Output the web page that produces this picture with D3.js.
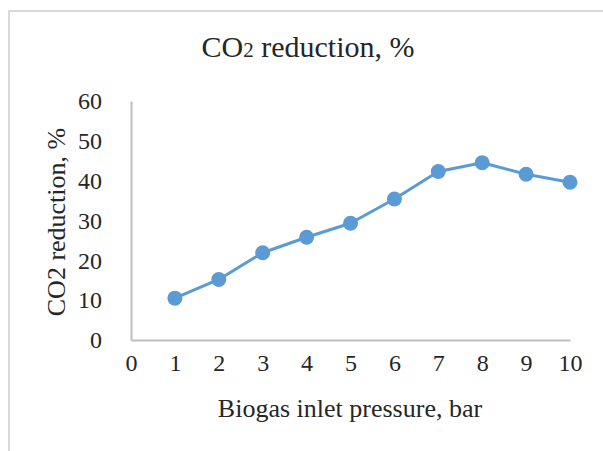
<!DOCTYPE html>
<html>
<head>
<meta charset="utf-8">
<script src="https://cdn.jsdelivr.net/npm/d3@7"></script>
<style>
	body { margin: 0; background: #fff; }
	svg text { font-family: "Liberation Serif", "Times New Roman", serif; fill: #262626; }
</style>
</head>
<body>
<script>
// pressure (bar) against CO2 reduction (%)
var pressure = [1, 2, 3, 4, 5, 6, 7, 8, 9, 10];
var reduction = [10.5, 15.2, 21.9, 25.8, 29.3, 35.4, 42.3, 44.5, 41.6, 39.6];
var xTicks = [0, 1, 2, 3, 4, 5, 6, 7, 8, 9, 10];
var yTicks = [0, 10, 20, 30, 40, 50, 60];

var width = 603, height = 451;
var margin = {top: 101, right: 33, bottom: 111, left: 131};

var svg = d3.select('body').append('svg')
	.attr('width', width)
	.attr('height', height);

// chart area border
svg.append('rect')
	.attr('x', 9)
	.attr('y', 11)
	.attr('width', width + 20)
	.attr('height', height + 20)
	.style('fill', 'none')
	.style('stroke', '#d9d9d9')
	.style('stroke-width', 2);

var x = d3.scaleLinear()
	.domain([0, 10])
	.range([margin.left, width - margin.right]);

var y = d3.scaleLinear()
	.domain([0, 60])
	.range([height - margin.bottom, margin.top]);

// x axis
var gx = svg.append('g')
	.attr('transform', 'translate(0,' + y(0) + ')')
	.call(d3.axisBottom(x).tickValues(xTicks).tickSize(0).tickPadding(14));
gx.select('.domain').style('stroke', '#bfbfbf').style('stroke-width', 2);
gx.selectAll('text').style('font-size', '24px').attr('fill', '#262626');

// y axis
var gy = svg.append('g')
	.attr('transform', 'translate(' + x(0) + ',0)')
	.call(d3.axisLeft(y).tickValues(yTicks).tickSize(0).tickPadding(29));
gy.select('.domain').style('stroke', '#bfbfbf').style('stroke-width', 2);
gy.selectAll('text').style('font-size', '24px').attr('fill', '#262626');

// title
var title = svg.append('text')
	.attr('x', 308)
	.attr('y', 57)
	.style('text-anchor', 'middle')
	.style('font-size', '30px');
title.append('tspan').text('CO');
title.append('tspan').style('font-size', '21px').text('2');
title.append('tspan').text(' reduction, %');

// axis titles
svg.append('text')
	.attr('x', 350)
	.attr('y', 417)
	.style('text-anchor', 'middle')
	.style('font-size', '26px')
	.text('Biogas inlet pressure, bar');

svg.append('text')
	.attr('transform', 'translate(65,' + 222 + ') rotate(-90)')
	.style('text-anchor', 'middle')
	.style('font-size', '26px')
	.text('CO2 reduction, %');

// line and markers
var line = d3.line()
	.x(function(d, i) { return x(pressure[i]); })
	.y(function(d) { return y(d); });

svg.append('path')
	.datum(reduction)
	.attr('d', line)
	.style('fill', 'none')
	.style('stroke', '#5b9bd5')
	.style('stroke-width', 3)
	.style('stroke-linejoin', 'round');

svg.selectAll('.dot')
	.data(reduction)
	.enter().append('circle')
	.attr('class', 'dot')
	.attr('cx', function(d, i) { return x(pressure[i]); })
	.attr('cy', function(d) { return y(d); })
	.attr('r', 7.5)
	.style('fill', '#5b9bd5');
</script>
</body>
</html>
